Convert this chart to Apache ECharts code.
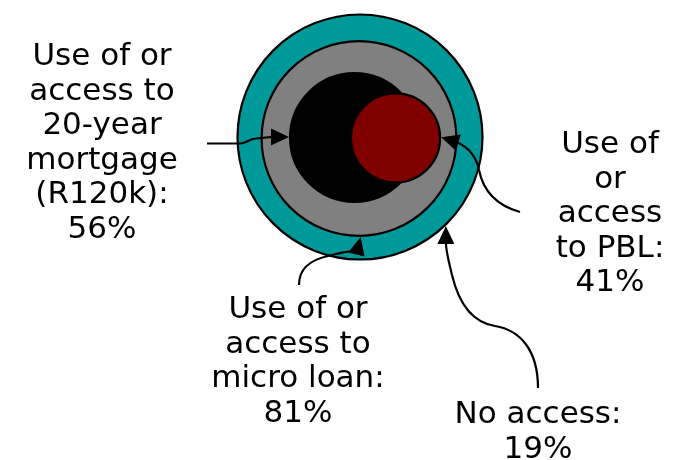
<!DOCTYPE html>
<html>
<head>
<meta charset="utf-8">
<script src="https://cdn.jsdelivr.net/npm/echarts@6/dist/echarts.min.js"></script>
<style>
  html, body { margin: 0; padding: 0; background: #ffffff; }
  #chart { width: 682px; height: 460px; }
</style>
</head>
<body>
<div id="chart"></div>
<script>
// Nested access groups, largest first (share of the population, %)
const groups = ['All', 'micro loan', 'mortgage', 'PBL'];
const shares = [100, 81, 56, 41];
const noAccessShare = 19;

// Layout of the nested circles (centre per group, in canvas units)
const centres = [[360, 137], [359, 138.5], [354.5, 137.5], [395.5, 138]];
const fills = ['#009999', '#808080', '#000000', '#800000'];
const BORDER = 2.2;

// Radius scale: percentage -> pixels
const radiusOf = v => 1.32 * v - 9.5;

const chart = echarts.init(document.getElementById('chart'), null, { renderer: 'canvas' });

const font = '"DejaVu Sans", Verdana, sans-serif';

function label(text, x, top) {
  return {
    type: 'text', x: x, y: top, z: 10,
    style: {
      text: text, font: '31px ' + font, fill: '#000',
      align: 'center', verticalAlign: 'top', lineHeight: 34.5
    }
  };
}

// Point on the outline of circle i at the given angle (degrees, screen orientation)
function edge(i, deg) {
  const r = radiusOf(shares[i]) + BORDER / 2;
  const a = deg * Math.PI / 180;
  return [centres[i][0] + r * Math.cos(a), centres[i][1] + r * Math.sin(a)];
}

const lineStyle = { fill: null, stroke: '#000', lineWidth: 2.2 };

// Leader line with an arrowhead: straight [x,y] or cubic [c1x,c1y,c2x,c2y,x,y] pieces,
// the last piece ending at the base of the head that points along dir to tip.
function arrow(start, pieces, tip, dir) {
  const L = 18, H = 8.5;
  const len = Math.hypot(dir[0], dir[1]);
  const ux = dir[0] / len, uy = dir[1] / len;
  const base = [tip[0] - ux * (L - 2), tip[1] - uy * (L - 2)];
  const back = [tip[0] - ux * L, tip[1] - uy * L];
  const out = [];
  let p = start;
  pieces.forEach((s, k) => {
    const last = k === pieces.length - 1;
    if (s.length <= 2) {
      const e = last ? base : s;
      out.push({ type: 'line', z: 5, shape: { x1: p[0], y1: p[1], x2: e[0], y2: e[1] }, style: lineStyle });
      p = e;
    } else {
      const e = last ? base : [s[4], s[5]];
      out.push({
        type: 'bezierCurve', z: 5,
        shape: { x1: p[0], y1: p[1], cpx1: s[0], cpy1: s[1], cpx2: s[2], cpy2: s[3], x2: e[0], y2: e[1] },
        style: lineStyle
      });
      p = e;
    }
  });
  out.push({
    type: 'polygon', z: 6,
    shape: { points: [tip, [back[0] - uy * H, back[1] + ux * H], [back[0] + uy * H, back[1] - ux * H]] },
    style: { fill: '#000' }
  });
  return out;
}

chart.setOption({
  animation: false,
  grid: { left: 0, right: 0, top: 0, bottom: 0 },
  xAxis: { type: 'value', min: 0, max: 682, show: false },
  yAxis: { type: 'value', min: 0, max: 460, inverse: true, show: false },
  series: [{
    type: 'scatter',
    symbol: 'circle',
    symbolSize: val => 2 * radiusOf(val[2]),
    data: groups.map((g, i) => ({
      name: g,
      value: [centres[i][0], centres[i][1], shares[i]],
      itemStyle: { color: fills[i], borderColor: '#000', borderWidth: BORDER, opacity: 1 }
    })),
    emphasis: { disabled: true }
  }],
  graphic: [].concat(
    arrow([207, 143.5], [[240, 143.5], [247, 143.5, 248, 139, 256, 138.5], []], edge(2, 180.5), [1, 0]),
    arrow([520, 212], [[495, 205, 483, 190, 479, 170, 479, 170], [476, 155, 468, 147, 0, 0]], edge(3, -1), [-16, -5]),
    arrow([299, 285], [[299, 268, 310, 260, 328, 256, 328, 256], [345, 252, 352, 250, 0, 0]], edge(1, 89), [4, -16]),
    arrow([538, 388], [[538, 350, 520, 330, 495, 326, 495, 326], [470, 322, 458, 300, 452, 275, 452, 275], [449, 262, 446, 252, 0, 0]], edge(0, 46), [0, -1]),
    [
      label('Use of or\naccess to\n20-year\nmortgage\n(R120k):\n' + shares[2] + '%', 102, 40),
      label('Use of\nor\naccess\nto PBL:\n' + shares[3] + '%', 610, 128),
      label('Use of or\naccess to\nmicro loan:\n' + shares[1] + '%', 298, 293),
      label('No access:\n' + noAccessShare + '%', 538, 398)
    ]
  )
});
</script>
</body>
</html>
